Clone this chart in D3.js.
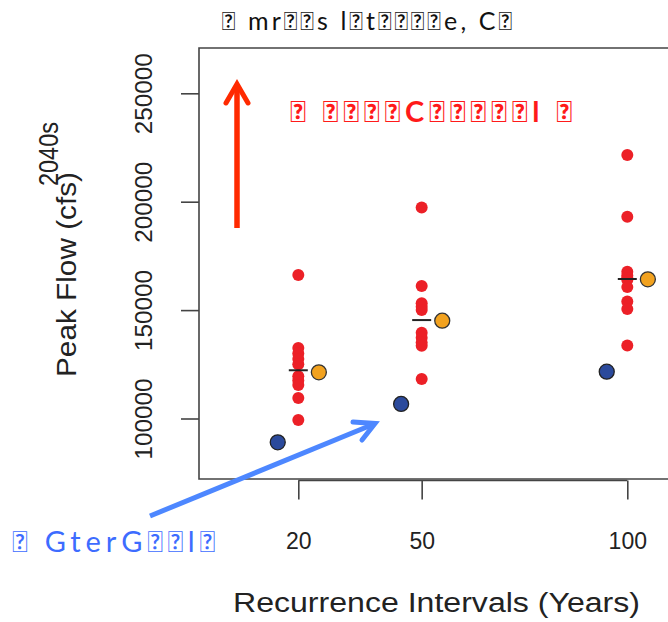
<!DOCTYPE html>
<html>
<head>
<meta charset="utf-8">
<script src="https://cdn.jsdelivr.net/npm/d3@7"></script>
<style>
  html, body { margin: 0; padding: 0; background: #fff; }
  svg { display: block; }
</style>
</head>
<body>
<svg id="chart" width="668" height="622"></svg>
<script>
// Recurrence intervals (years) and their tick labels
const intervals = [20, 50, 100];
const xTickLabels = ["20", "50", "100"];
const yTicks = [100000, 150000, 200000, 250000];

// Ensemble peak flows (cfs) for each recurrence interval
const ensemble20 = [166200, 132500, 130000, 127500, 125000, 119500, 117500, 115500, 109500, 99300];
const ensemble50 = [197300, 161100, 153200, 151500, 150000, 139600, 137300, 135000, 133500, 118200];
const ensemble100 = [221500, 193100, 167700, 166000, 164800, 163900, 160600, 154000, 150500, 133700];
const ensembles = [ensemble20, ensemble50, ensemble100];

// Ensemble medians
const medians = [122250, 145400, 164350];
// Historical estimate (blue) and second estimate (orange)
const historical = [89000, 106700, 121600];
const projected = [121300, 145100, 164200];

// Text
const titleText = "\uE000 mr\uE000\uE000s l\uE000t\uE000\uE000\uE000\uE000e, C\uE000";
const redNote = "\uE000 \uE000\uE000\uE000\uE000C\uE000\uE000\uE000\uE000\uE000l \uE000";
const blueNote = "\uE000 GterG\uE000\uE000l\uE000";
const yTitleTop = "2040s";
const yTitle = "Peak Flow (cfs)";
const xTitle = "Recurrence Intervals (Years)";

const svg = d3.select("#chart");

const x = d3.scaleLinear().domain([20, 100]).range([298.3, 627.3]);
const y = d3.scaleLinear().domain([100000, 250000]).range([418.5, 93.3]);

const plot = { left: 199, top: 48, bottom: 479, right: 720 };
const axisColor = "#444";
const textColor = "#222";
const axisFont = "'Liberation Sans', Arial, sans-serif";
const noteFont = "Lato, sans-serif";

// Plot frame
svg.append("path")
  .attr("d", `M${plot.right},${plot.top}H${plot.left}V${plot.bottom}H${plot.right}`)
  .attr("fill", "none")
  .attr("stroke", axisColor)
  .attr("stroke-width", 1.6);

// Y axis: ticks outside the frame, rotated labels
const yAxis = d3.axisLeft(y).tickValues(yTicks).tickSize(18).tickFormat(d3.format("d"));
const gy = svg.append("g").attr("transform", `translate(${plot.left},0)`).call(yAxis);
gy.select(".domain").remove();
gy.selectAll(".tick line").attr("stroke", axisColor).attr("stroke-width", 1.6);
gy.selectAll(".tick text")
  .attr("x", 0).attr("y", 0).attr("dy", 0)
  .attr("transform", "translate(-47,0) rotate(-90)")
  .attr("text-anchor", "middle")
  .attr("textLength", 81)
  .attr("lengthAdjust", "spacingAndGlyphs")
  .attr("fill", textColor)
  .style("font-family", axisFont)
  .style("font-size", "23px");

// X axis: line spanning the intervals with downward ticks
const xAxis = d3.axisBottom(x).tickValues(intervals).tickSize(19)
  .tickFormat((d, i) => xTickLabels[i]).tickSizeOuter(0);
const gx = svg.append("g").attr("transform", `translate(0,${plot.bottom + 1.5})`).call(xAxis);
gx.select(".domain").attr("stroke", axisColor).attr("stroke-width", 1.6)
  .attr("d", `M${x(20)},0H${x(100)}`);
gx.selectAll(".tick line").attr("stroke", axisColor).attr("stroke-width", 1.6);
gx.selectAll(".tick text")
  .attr("y", 0).attr("dy", 0)
  .attr("transform", "translate(0,68)")
  .attr("fill", textColor)
  .style("font-family", axisFont)
  .style("font-size", "23px");

// Axis titles
svg.append("text")
  .attr("transform", "translate(233,612)")
  .attr("textLength", 407)
  .attr("lengthAdjust", "spacingAndGlyphs")
  .attr("fill", textColor)
  .style("font-family", axisFont)
  .style("font-size", "27px")
  .text(xTitle);

svg.append("text")
  .attr("transform", "translate(76,377) rotate(-90)")
  .attr("textLength", 205)
  .attr("lengthAdjust", "spacingAndGlyphs")
  .attr("fill", textColor)
  .style("font-family", axisFont)
  .style("font-size", "27px")
  .text(yTitle);

svg.append("text")
  .attr("transform", "translate(58,186) rotate(-90)")
  .attr("textLength", 64)
  .attr("lengthAdjust", "spacingAndGlyphs")
  .attr("fill", textColor)
  .style("font-family", axisFont)
  .style("font-size", "27px")
  .text(yTitleTop);

// Ensemble members
const redPts = [];
ensembles.forEach((vals, i) => vals.forEach(v => redPts.push({ t: intervals[i], v })));
svg.append("g").selectAll("circle").data(redPts).join("circle")
  .attr("cx", d => x(d.t))
  .attr("cy", d => y(d.v))
  .attr("r", 6)
  .attr("fill", "#ec2027");

// Median bars
svg.append("g").selectAll("line").data(medians).join("line")
  .attr("x1", (d, i) => x(intervals[i]) - 9.5)
  .attr("x2", (d, i) => x(intervals[i]) + 9.5)
  .attr("y1", d => y(d))
  .attr("y2", d => y(d))
  .attr("stroke", "#222")
  .attr("stroke-width", 2);

// Historical and projected estimates, offset by 5 years either side
svg.append("g").selectAll("circle").data(historical).join("circle")
  .attr("cx", (d, i) => x(intervals[i] - 5))
  .attr("cy", d => y(d))
  .attr("r", 7.5)
  .attr("fill", "#2b4a9c")
  .attr("stroke", "#222")
  .attr("stroke-width", 1.3);

svg.append("g").selectAll("circle").data(projected).join("circle")
  .attr("cx", (d, i) => x(intervals[i] + 5))
  .attr("cy", d => y(d))
  .attr("r", 7.5)
  .attr("fill", "#f2a21f")
  .attr("stroke", "#333")
  .attr("stroke-width", 1.3);

// Annotation arrows
const red = "#ff2a00";
svg.append("line")
  .attr("x1", 237).attr("y1", 228).attr("x2", 237).attr("y2", 84)
  .attr("stroke", red).attr("stroke-width", 5.5);
svg.append("path")
  .attr("d", "M226,103L237,84L248,103")
  .attr("fill", "none").attr("stroke", red).attr("stroke-width", 5)
  .attr("stroke-linejoin", "miter").attr("stroke-linecap", "round");

const blue = "#4d87ff";
svg.append("line")
  .attr("x1", 150).attr("y1", 516).attr("x2", 374).attr("y2", 424)
  .attr("stroke", blue).attr("stroke-width", 5);
svg.append("path")
  .attr("d", "M353,422L375,423.5L362,440")
  .attr("fill", "none").attr("stroke", blue).attr("stroke-width", 5)
  .attr("stroke-linejoin", "miter").attr("stroke-linecap", "round");

// Overlaid notes
svg.append("text")
  .attr("x", 222).attr("y", 30)
  .attr("textLength", 290)
  .attr("lengthAdjust", "spacing")
  .attr("fill", "#111")
  .style("font-family", noteFont)
  .style("font-size", "25px")
  .text(titleText);

svg.append("text")
  .attr("x", 290).attr("y", 122)
  .attr("textLength", 282)
  .attr("lengthAdjust", "spacing")
  .attr("fill", "#ff1a1a")
  .style("font-family", noteFont)
  .style("font-weight", "bold")
  .style("font-size", "29px")
  .text(redNote);

svg.append("text")
  .attr("x", 12).attr("y", 552)
  .attr("textLength", 203)
  .attr("lengthAdjust", "spacing")
  .attr("fill", "#3d6cff")
  .style("font-family", noteFont)
  .style("font-size", "29px")
  .text(blueNote);
</script>
</body>
</html>
